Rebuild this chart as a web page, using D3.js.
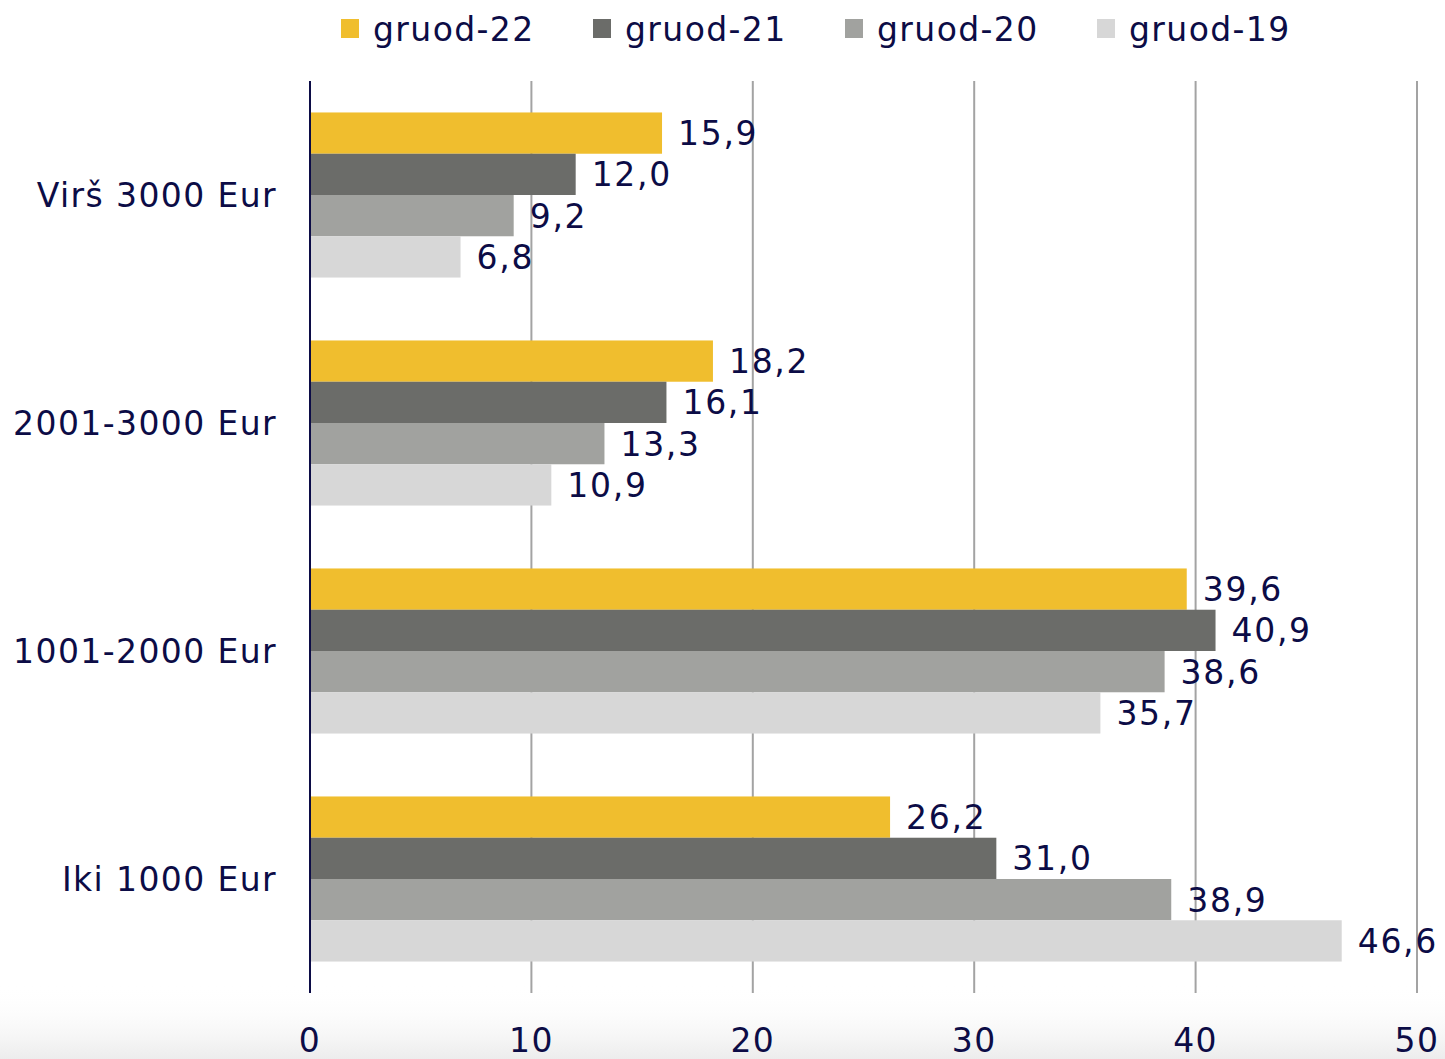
<!DOCTYPE html>
<html>
<head>
<meta charset="utf-8">
<script src="https://cdn.jsdelivr.net/npm/d3@7"></script>
<style>
  html, body { margin: 0; padding: 0; background: #fff; }
  svg { display: block; font-family: "DejaVu Sans", Verdana, sans-serif; }
  svg text { letter-spacing: 1.4px; }
</style>
</head>
<body>
<div id="chart"></div>
<script>
// categories, top to bottom
const categories = ["Virš 3000 Eur", "2001-3000 Eur", "1001-2000 Eur", "Iki 1000 Eur"];
const seriesNames = ["gruod-22", "gruod-21", "gruod-20", "gruod-19"];
const gruod22 = [15.9, 18.2, 39.6, 26.2];
const gruod21 = [12.0, 16.1, 40.9, 31.0];
const gruod20 = [9.2, 13.3, 38.6, 38.9];
const gruod19 = [6.8, 10.9, 35.7, 46.6];
const xTicks = [0, 10, 20, 30, 40, 50];

const seriesColors = ["#F0BE2E", "#6B6C69", "#A1A29F", "#D7D7D7"];
const seriesValues = [gruod22, gruod21, gruod20, gruod19];

const width = 1445, height = 1059;
const margin = { top: 81, right: 28, bottom: 66, left: 310 };
const textColor = "#0c0c46";

const svg = d3.select("#chart").append("svg")
  .attr("width", width)
  .attr("height", height);

// faint grey wash along the bottom edge
const defs = svg.append("defs");
const grad = defs.append("linearGradient")
  .attr("id", "wash").attr("x1", 0).attr("y1", 0).attr("x2", 0).attr("y2", 1);
grad.append("stop").attr("offset", "0%").attr("stop-color", "#fff").attr("stop-opacity", 0);
grad.append("stop").attr("offset", "100%").attr("stop-color", "#ececec").attr("stop-opacity", 1);
svg.append("rect")
  .attr("x", 0).attr("y", 985).attr("width", width).attr("height", height - 985)
  .attr("fill", "url(#wash)");

const x = d3.scaleLinear()
  .domain([0, 50])
  .range([margin.left, width - margin.right]);

const y = d3.scaleBand()
  .domain(categories)
  .range([margin.top, height - margin.bottom])
  .paddingInner(0.276)
  .paddingOuter(0.138);

const ySub = d3.scaleBand()
  .domain(seriesNames)
  .range([0, y.bandwidth()]);

const plotTop = margin.top, plotBottom = height - margin.bottom;

// gridlines
svg.append("g")
  .selectAll("line")
  .data(xTicks.filter(d => d > 0))
  .join("line")
  .attr("x1", d => x(d)).attr("x2", d => x(d))
  .attr("y1", plotTop).attr("y2", plotBottom)
  .attr("stroke", "#a3a3a3")
  .attr("stroke-width", 2);

// bars
const rows = [];
categories.forEach((c, i) => {
  seriesNames.forEach((s, j) => {
    rows.push({ cat: c, series: s, value: seriesValues[j][i], color: seriesColors[j] });
  });
});

svg.append("g")
  .selectAll("rect")
  .data(rows)
  .join("rect")
  .attr("x", x(0))
  .attr("y", d => y(d.cat) + ySub(d.series))
  .attr("width", d => x(d.value) - x(0))
  .attr("height", ySub.bandwidth())
  .attr("fill", d => d.color);

// value labels
const fmt = v => d3.format(".1f")(v).replace(".", ",");
svg.append("g")
  .selectAll("text")
  .data(rows)
  .join("text")
  .attr("x", d => x(d.value) + 16)
  .attr("y", d => y(d.cat) + ySub(d.series) + ySub.bandwidth() / 2)
  .attr("dy", "0.36em")
  .attr("fill", textColor)
  .style("font-size", "33px")
  .style("letter-spacing", "1.7px")
  .text(d => fmt(d.value));

// y axis line
svg.append("line")
  .attr("x1", x(0)).attr("x2", x(0))
  .attr("y1", plotTop).attr("y2", plotBottom)
  .attr("stroke", textColor)
  .attr("stroke-width", 2);

// category labels
svg.append("g")
  .selectAll("text")
  .data(categories)
  .join("text")
  .attr("x", 277)
  .attr("y", d => y(d) + y.bandwidth() / 2)
  .attr("dy", "0.36em")
  .attr("text-anchor", "end")
  .attr("fill", textColor)
  .style("font-size", "33px")
  .text(d => d);

// x tick labels
svg.append("g")
  .selectAll("text")
  .data(xTicks)
  .join("text")
  .attr("x", d => x(d))
  .attr("y", 1052)
  .attr("text-anchor", "middle")
  .attr("fill", textColor)
  .style("font-size", "33px")
  .text(d => d);

// legend
const legend = svg.append("g")
  .selectAll("g")
  .data(seriesNames)
  .join("g")
  .attr("transform", (d, i) => `translate(${341 + i * 252},0)`);

legend.append("rect")
  .attr("x", 0).attr("y", 19)
  .attr("width", 18).attr("height", 19)
  .attr("fill", (d, i) => seriesColors[i]);

legend.append("text")
  .attr("x", 32)
  .attr("y", 41)
  .attr("fill", textColor)
  .style("font-size", "33px")
  .text(d => d);
</script>
</body>
</html>
